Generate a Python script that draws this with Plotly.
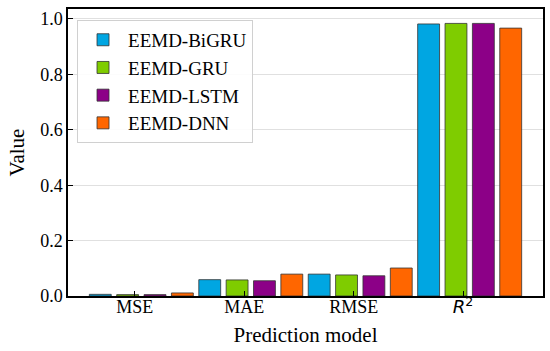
import plotly.graph_objects as go

categories = ["MSE", "MAE", "RMSE", "R2"]
tick_labels = ["MSE", "MAE", "RMSE",
               "<span style='font-family:DejaVu Sans'><i>R</i><sup>2</sup></span>"]
series_names = ["EEMD-BiGRU", "EEMD-GRU", "EEMD-LSTM", "EEMD-DNN"]
bigru = [0.006, 0.059, 0.079, 0.982]
gru = [0.005, 0.058, 0.076, 0.984]
lstm = [0.005, 0.055, 0.073, 0.984]
dnn = [0.011, 0.079, 0.101, 0.967]
colors = ["#00A6E2", "#7FCC00", "#8C0087", "#FF6600"]

xpos = list(range(len(categories)))
fig = go.Figure()
for name, vals, c in zip(series_names, [bigru, gru, lstm, dnn], colors):
    fig.add_trace(go.Bar(x=xpos, y=vals, name=name, marker_color=c,
                         marker_line_color="#333333", marker_line_width=0.8))

font_serif = "Liberation Serif, Times New Roman, serif"
fig.update_layout(
    width=550, height=351,
    margin=dict(l=68, r=7, t=9, b=55),
    plot_bgcolor="white", paper_bgcolor="white",
    barmode="group", bargap=0.0, bargroupgap=0.2,
    font=dict(family=font_serif, size=18, color="black"),
    legend=dict(x=0.019, y=0.962, xanchor="left", yanchor="top",
                font=dict(size=19, family=font_serif),
                bordercolor="#d0d0d0", borderwidth=1, bgcolor="rgba(255,255,255,0.9)",
                itemwidth=40, tracegroupgap=0),
    showlegend=True,
)
fig.update_xaxes(
    range=[-0.67, 3.67], automargin=False,
    tickvals=[i - 0.06 for i in xpos], ticktext=tick_labels,
    ticks="inside", ticklen=5, tickcolor="black", ticklabelstandoff=-6,
    showline=True, linecolor="black", linewidth=1.5, mirror=True,
    showgrid=False, zeroline=False,
    title=dict(text="Prediction model", font=dict(size=21), standoff=11),
)
fig.update_yaxes(
    range=[0, 1.036], tickvals=[0, 0.2, 0.4, 0.6, 0.8, 1.0], automargin=False,
    tickformat=".1f",
    ticks="inside", ticklen=5, tickcolor="black",
    showline=True, linecolor="black", linewidth=1.5, mirror=True,
    showgrid=True, gridcolor="#e0e0e0", gridwidth=1, zeroline=False,
    title=dict(text="Value", font=dict(size=21), standoff=10),
)
fig.write_html("out.html", config={"displayModeBar": False},
               post_script="document.body.style.margin='0';")
